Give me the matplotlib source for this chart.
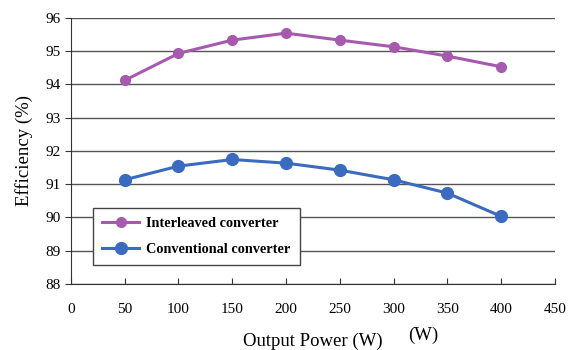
import numpy as np
import matplotlib.pyplot as plt

power = [50, 100, 150, 200, 250, 300, 350, 400]
interleaved = [94.12, 94.93, 95.33, 95.54, 95.33, 95.13, 94.85, 94.53]
conventional = [91.13, 91.54, 91.74, 91.63, 91.42, 91.13, 90.73, 90.03]

plt.rcParams['font.family'] = ['Liberation Serif', 'DejaVu Serif']

fig = plt.figure(figsize=(5.72, 3.5), dpi=100)
ax = fig.add_axes([0.124, 0.189, 0.846, 0.760])

ax.plot(power, interleaved, color='#A65AAE', lw=2.2, marker='o', ms=7,
        label='Interleaved converter')
ax.plot(power, conventional, color='#3A6BBE', lw=2.2, marker='o', ms=8.5,
        label='Conventional converter')

ax.set_xlim(0, 450)
ax.set_ylim(88, 96)
ax.set_xticks(np.arange(0, 451, 50))
ax.set_yticks(np.arange(88, 97, 1))
ax.yaxis.grid(True, color='#555555', lw=1)
ax.set_axisbelow(True)
for s in ['top', 'right']:
    ax.spines[s].set_visible(False)
ax.spines['left'].set_color('#333333')
ax.spines['bottom'].set_color('#333333')
ax.tick_params(axis='x', direction='in', length=4, labelsize=11, pad=14, colors='#333333')
ax.tick_params(axis='y', direction='out', length=4, labelsize=11, colors='#333333')
for lbl in ax.get_xticklabels() + ax.get_yticklabels():
    lbl.set_color('black')

ax.set_ylabel('Efficiency (%)', fontsize=13.5, labelpad=9)
ax.set_xlabel('Output Power (W)', fontsize=13.5, labelpad=12)
fig.text(0.714, 0.028, '(W)', fontsize=13.5)

leg = ax.legend(loc='lower left', bbox_to_anchor=(0.045, 0.071), fancybox=False,
                prop={'weight': 'bold', 'size': 10.3}, handlelength=2.6,
                borderpad=0.65, labelspacing=0.85, borderaxespad=0,
                handletextpad=0.5, framealpha=1)
leg.get_frame().set_edgecolor('#444444')
leg.get_frame().set_linewidth(1)

fig.savefig('out.png', dpi=100)
